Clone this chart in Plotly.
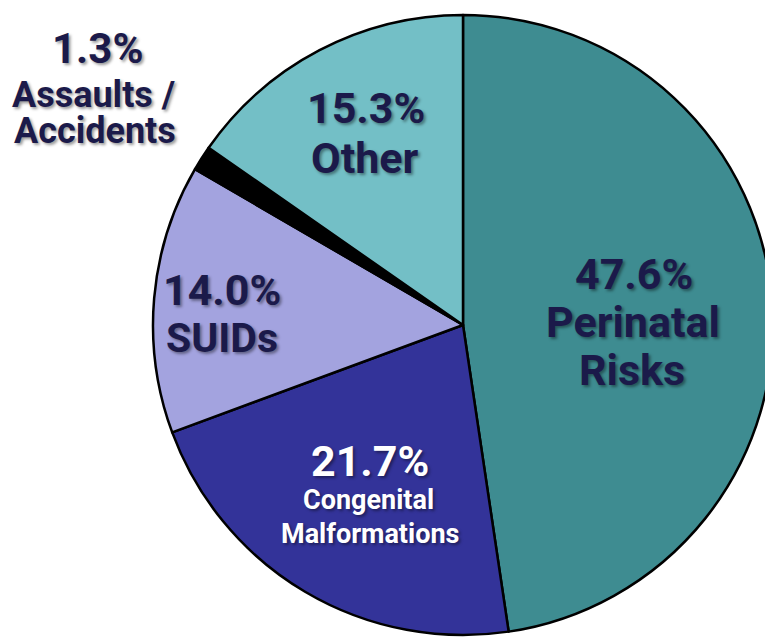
import plotly.graph_objects as go

# The page body has a default 8px margin, so the figure is sized to fill the rest
OFF = 8
W, H = 773 - OFF, 643 - OFF

categories = ["Perinatal Risks", "Congenital Malformations", "SUIDs", "Assaults / Accidents", "Other"]
values = [47.6, 21.7, 14.0, 1.3, 15.3]
label_lines = [["Perinatal", "Risks"], ["Congenital", "Malformations"], ["SUIDs"], ["Assaults /", "Accidents"], ["Other"]]
slice_colors = ["#3e8c91", "#333399", "#a3a3df", "#000000", "#73bfc6"]
text_colors = ["#1b1a4a", "#ffffff", "#1b1a4a", "#1b1a4a", "#1b1a4a"]

# label anchor positions (page pixel centers) per line: first = percentage line
label_pos = [
    [(634, 274), (633, 322), (632, 370)],
    [(370, 461), (368, 500), (370, 534)],
    [(222, 290), (222, 338)],
    [(97, 48), (93, 95), (95, 131)],
    [(366, 108), (365, 158)],
]
pct_sizes = [43, 43, 43, 42, 43]
name_sizes = [43, 27, 41, 36, 43]

# pie centre (463, 325) and radius 310 in page pixels
cx, cy, r = 463 - OFF, 325 - OFF, 310
fig = go.Figure(go.Pie(
    labels=categories,
    values=values,
    sort=False,
    direction="clockwise",
    rotation=0,
    marker=dict(colors=slice_colors, line=dict(color="#000000", width=2.5)),
    textinfo="none",
    hoverinfo="label+percent",
    domain=dict(x=[(cx - r) / W, min(1.0, (cx + r) / W)],
                y=[(H - cy - r) / H, (H - cy + r) / H]),
    showlegend=False,
))

shadow = "2px 2px 3px rgba(0,0,0,0.40)"
annotations = []
for i, cat in enumerate(categories):
    lines = [f"{values[i]:.1f}%"] + label_lines[i]
    for j, line in enumerate(lines):
        px, py = label_pos[i][j]
        size = pct_sizes[i] if j == 0 else name_sizes[i]
        annotations.append(dict(
            x=(px - OFF) / W, y=1 - (py - OFF) / H, xref="paper", yref="paper",
            xanchor="center", yanchor="middle", showarrow=False,
            text=line,
            font=dict(family="Roboto", size=size, color=text_colors[i], weight="bold", shadow=shadow),
        ))

fig.update_layout(
    width=W, height=H,
    margin=dict(l=0, r=0, t=0, b=0),
    paper_bgcolor="#ffffff",
    plot_bgcolor="#ffffff",
    annotations=annotations,
)

fig.write_html("out.html")
